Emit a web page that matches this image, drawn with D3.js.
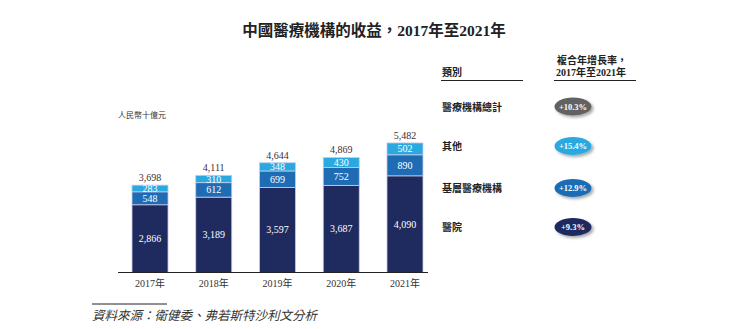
<!DOCTYPE html>
<html><head><meta charset="utf-8">
<script src="https://cdn.jsdelivr.net/npm/d3@7"></script>
<style>
body{margin:0;background:#fff;}
svg{display:block;}
</style></head>
<body>
<svg id="c" width="744" height="329"></svg>
<script>
const years = ["2017年","2018年","2019年","2020年","2021年"];
const hospital = [2866,3189,3597,3687,4090];
const primary = [548,612,699,752,890];
const others = [283,310,348,430,502];
const totals = [3698,4111,4644,4869,5482];
const legendLabels = ["醫療機構總計","其他","基層醫療機構","醫院"];
const cagr = ["+10.3%","+15.4%","+12.9%","+9.3%"];
const seriesKeys = ["hospital","primary","others"];
const colors = {hospital:"#1f2a5e", primary:"#1f6cb5", others:"#2aa9e0", total:"#626262"};
const legendColors = [colors.total, colors.others, colors.primary, colors.hospital];

const serif = "'Liberation Serif','Times New Roman','Noto Sans CJK TC',serif";
const cjk = "'Noto Sans CJK TC','Liberation Serif',sans-serif";

const svg = d3.select("#c");
const defs = svg.append("defs");
const f = defs.append("filter").attr("id","sh").attr("x","-30%").attr("y","-40%").attr("width","170%").attr("height","200%");
f.append("feDropShadow").attr("dx",2).attr("dy",2).attr("stdDeviation",1.5).attr("flood-color","#000").attr("flood-opacity",0.35);

// title
svg.append("text").attr("x",374).attr("y",36).attr("text-anchor","middle")
  .attr("font-family",serif).attr("font-weight","bold").attr("font-size",15.5).attr("fill","#222")
  .text("中國醫療機構的收益，2017年至2021年");

const x = d3.scaleBand().domain(years).range([132,423]).paddingInner(0.435).paddingOuter(0);
const y = d3.scaleLinear().domain([0,6000]).range([272.5,130.7]);

const data = years.map((yr,i)=>({year:yr, hospital:hospital[i], primary:primary[i], others:others[i], total:totals[i]}));
const stacked = d3.stack().keys(seriesKeys)(data);

const g = svg.append("g");
stacked.forEach(layer=>{
  g.selectAll(null).data(layer).enter().append("rect")
    .attr("x",d=>x(d.data.year)).attr("width",x.bandwidth())
    .attr("y",d=>y(d[1])).attr("height",d=>y(d[0])-y(d[1]))
    .attr("fill",colors[layer.key]).attr("stroke","#c9cce6").attr("stroke-width",0.8);
  g.selectAll(null).data(layer).enter().append("text")
    .attr("x",d=>x(d.data.year)+x.bandwidth()/2)
    .attr("y",d=>(y(d[0])+y(d[1]))/2+3.5)
    .attr("text-anchor","middle").attr("font-family",serif).attr("font-size",10)
    .attr("fill","#fff").text(d=>d3.format(",")(d.data[layer.key]));
});
// totals
g.selectAll(null).data(data).enter().append("text")
  .attr("x",d=>x(d.year)+x.bandwidth()/2).attr("y",d=>y(d.total)-4)
  .attr("text-anchor","middle").attr("font-family",serif).attr("font-size",10)
  .attr("fill","#3d2e36").text(d=>d3.format(",")(d.total));

// axis
const ax = svg.append("g").attr("transform","translate(0,272.5)")
  .call(d3.axisBottom(x).tickSize(0).tickPadding(7));
ax.select(".domain").remove();
ax.append("line").attr("x1",118).attr("x2",428).attr("stroke","#222").attr("stroke-width",1.2);
ax.selectAll(".tick text").attr("font-family",serif).attr("font-size",10).attr("fill","#333");

// unit label
svg.append("text").attr("x",118).attr("y",118).attr("font-family",serif).attr("font-size",8).attr("fill","#333").text("人民幣十億元");

// legend headers
svg.append("text").attr("x",442).attr("y",76).attr("font-family",cjk).attr("font-weight","bold").attr("font-size",10).attr("fill","#222").text("類別");
svg.append("line").attr("x1",441).attr("x2",523).attr("y1",80.5).attr("y2",80.5).attr("stroke","#222").attr("stroke-width",1.2);
svg.append("text").attr("x",557).attr("y",63.5).attr("font-family",serif).attr("font-weight","bold").attr("font-size",10).attr("fill","#222").text("複合年增長率，");
svg.append("text").attr("x",556).attr("y",76).attr("font-family",serif).attr("font-weight","bold").attr("font-size",10).attr("fill","#222").text("2017年至2021年");
svg.append("line").attr("x1",554).attr("x2",636).attr("y1",80.5).attr("y2",80.5).attr("stroke","#222").attr("stroke-width",1.2);

const rowY = [106.5,146,188,227];
const lg = svg.append("g");
legendLabels.forEach((lab,i)=>{
  lg.append("text").attr("x",442).attr("y",rowY[i]+4).attr("font-family",cjk).attr("font-weight","bold").attr("font-size",10).attr("fill","#222").text(lab);
  lg.append("ellipse").attr("cx",573).attr("cy",rowY[i]).attr("rx",18.5).attr("ry",9)
    .attr("fill",legendColors[i]).attr("filter","url(#sh)");
  lg.append("text").attr("x",573).attr("y",rowY[i]+3).attr("text-anchor","middle")
    .attr("font-family",serif).attr("font-weight","bold").attr("font-size",8.5).attr("fill","#fff").text(cagr[i]);
});

// source
svg.append("line").attr("x1",92).attr("x2",167).attr("y1",304).attr("y2",304).attr("stroke","#222").attr("stroke-width",1);
svg.append("text").attr("x",92).attr("y",320).attr("font-family",cjk).attr("font-style","italic").attr("font-size",12.5).attr("fill","#333")
  .text("資料來源：衛健委、弗若斯特沙利文分析");
</script>
</body></html>
